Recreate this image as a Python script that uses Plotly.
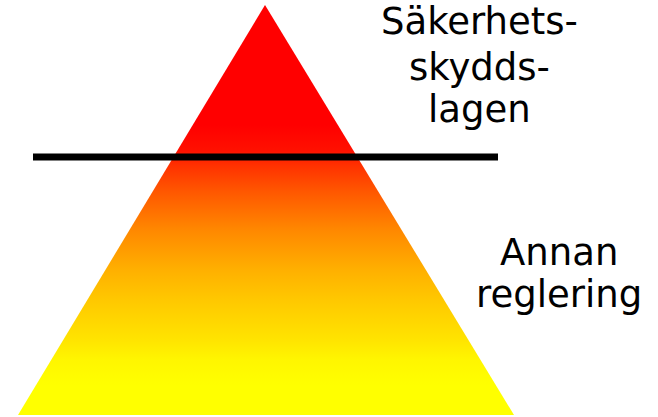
import plotly.graph_objects as go

# --- diagram content -------------------------------------------------------
top_label_lines = ["Säkerhets-", "skydds-", "lagen"]
bottom_label_lines = ["Annan", "reglering"]

# pyramid outline (apex, base right, base left) in canvas units
pyramid_x = [265, 514, 18, 265]
pyramid_y = [5, 415, 415, 5]

# divider line
divider_x = [33, 498]
divider_y = [157, 157]

# vertical colour ramp (canvas y -> colour)
ramp_y = [5, 125, 150, 165, 190, 230, 270, 300, 340, 360, 385, 415]
ramp_c = ["#FF0000", "#FF0000", "#FF1000", "#FF3000", "#FF5500", "#FF8800",
          "#FFB000", "#FFC800", "#FFE400", "#FFF600", "#FFFF00", "#FFFF00"]

W, H = 658, 417
y0, y1 = ramp_y[0], ramp_y[-1]
colorscale = [[(y - y0) / (y1 - y0), c] for y, c in zip(ramp_y, ramp_c)]

fig = go.Figure()
fig.add_trace(go.Scatter(
    x=pyramid_x, y=pyramid_y, mode="lines", fill="toself",
    line=dict(width=0, color="rgba(0,0,0,0)"),
    fillgradient=dict(type="vertical", colorscale=colorscale, start=y0, stop=y1),
    hoverinfo="skip", showlegend=False,
))
fig.add_trace(go.Scatter(
    x=divider_x, y=divider_y, mode="lines",
    line=dict(color="black", width=7),
    hoverinfo="skip", showlegend=False,
))

font = dict(family="DejaVu Sans, Verdana, sans-serif", size=37, color="black")
top_centers_y = [21, 67, 109]
bottom_centers_y = [252, 294]
for txt, yc in zip(top_label_lines, top_centers_y):
    fig.add_annotation(x=479, y=yc, text=txt, showarrow=False, font=font,
                       xanchor="center", yanchor="middle")
for txt, yc in zip(bottom_label_lines, bottom_centers_y):
    fig.add_annotation(x=559, y=yc, text=txt, showarrow=False, font=font,
                       xanchor="center", yanchor="middle")

fig.update_layout(
    width=W, height=H, margin=dict(l=0, r=0, t=0, b=0),
    paper_bgcolor="white", plot_bgcolor="white",
    xaxis=dict(range=[0, W], visible=False, fixedrange=True),
    yaxis=dict(range=[H, 0], visible=False, fixedrange=True),
)
fig.write_html("out.html", config={"displayModeBar": False},
               post_script="document.body.style.margin='0';document.body.style.overflow='hidden';")
